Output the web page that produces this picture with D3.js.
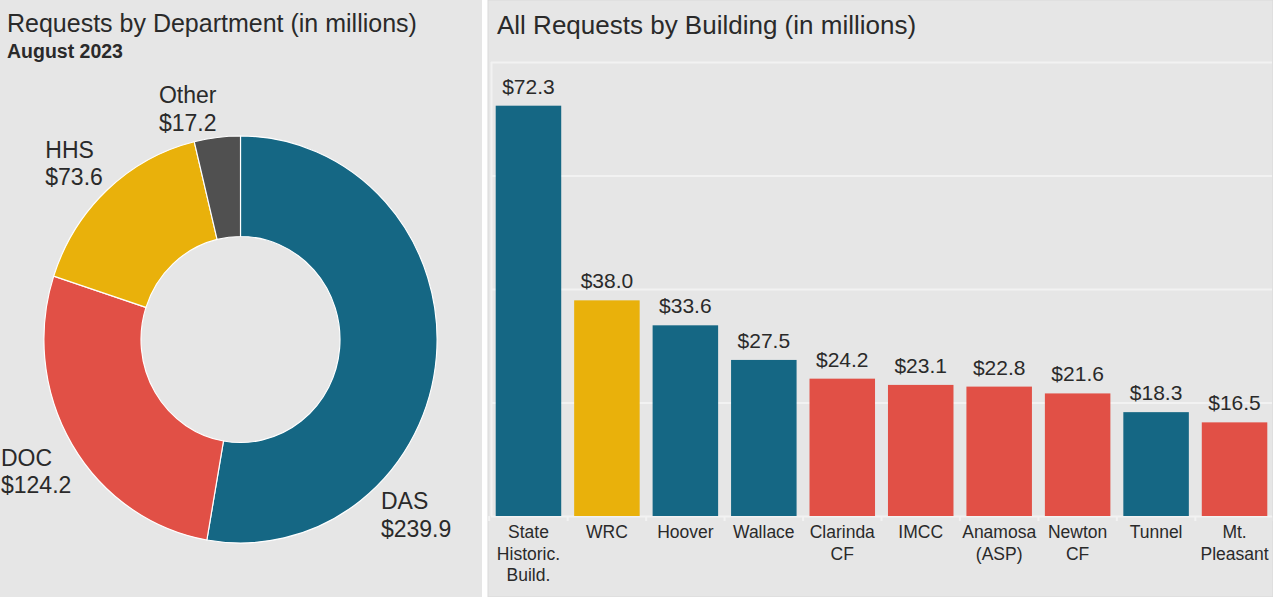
<!DOCTYPE html>
<html>
<head>
<meta charset="utf-8">
<script src="https://cdn.jsdelivr.net/npm/d3@7"></script>
<style>
    html, body { margin: 0; padding: 0; background: #ffffff; }
    svg { display: block; font-family: "Liberation Sans", Arial, sans-serif; }
</style>
</head>
<body>
<svg id="chart" width="1273" height="597"></svg>
<script>
// Donut data (in millions)
var deptNames = ["DAS", "DOC", "HHS", "Other"];
var deptValues = [239.9, 124.2, 73.6, 17.2];

// Bar data (in millions)
var buildingLabels = [
    ["State", "Historic.", "Build."],
    ["WRC"],
    ["Hoover"],
    ["Wallace"],
    ["Clarinda", "CF"],
    ["IMCC"],
    ["Anamosa", "(ASP)"],
    ["Newton", "CF"],
    ["Tunnel"],
    ["Mt.", "Pleasant"]
];
var buildingValues = [72.3, 38.0, 33.6, 27.5, 24.2, 23.1, 22.8, 21.6, 18.3, 16.5];
var buildingDept = ["DAS", "HHS", "DAS", "DAS", "DOC", "DOC", "DOC", "DOC", "DAS", "DOC"];
var gridTicks = [0, 20, 40, 60, 80];

var colors = d3.scaleOrdinal()
    .domain(deptNames)
    .range(["#156784", "#e15046", "#e9b10b", "#505050"]);

var bg = "#e6e6e6";
var textColor = "#2a2a2a";

var svg = d3.select("#chart");

// Panels
var leftW = 482;
var rightX = 488;

svg.append("rect").attr("x", 0).attr("y", 0).attr("width", leftW).attr("height", 597).attr("fill", bg);
svg.append("rect").attr("x", rightX).attr("y", 0).attr("width", 1273 - rightX).attr("height", 597)
    .attr("fill", bg).attr("stroke", "#d9d9d9").attr("stroke-width", 1);

// ---------- Left: donut ----------
var left = svg.append("g");

left.append("text")
    .attr("x", 7).attr("y", 32)
    .attr("font-size", 25).attr("fill", textColor)
    .text("Requests by Department (in millions)");
left.append("text")
    .attr("x", 7).attr("y", 58)
    .attr("font-size", 19.5).attr("font-weight", "bold").attr("fill", textColor)
    .text("August 2023");

var cx = 240.5, cy = 339.5;
var outerR = 203.5, innerR = 103;
var sx = 0.966; // the ring is drawn slightly narrower than tall

var pie = d3.pie().sort(null).value(d => d);
var arcs = pie(deptValues);

var arc = d3.arc().innerRadius(innerR).outerRadius(outerR);

var donut = left.append("g").attr("transform", "translate(" + cx + "," + cy + ") scale(" + sx + ",1)");
donut.selectAll("path")
    .data(arcs)
    .enter()
    .append("path")
    .attr("d", arc)
    .attr("fill", (d, i) => colors(deptNames[i]))
    .attr("stroke", "#ffffff")
    .attr("stroke-width", 1.2);

// Labels: the text box corner nearest the ring sits just outside it
var labelR = 210;
var fontSize = 23;
var lineH = 27.5;

arcs.forEach(function (d, i) {
    var g = left.append("g");
    var t1 = g.append("text").attr("font-size", fontSize).attr("fill", textColor).text(deptNames[i]);
    var t2 = g.append("text").attr("font-size", fontSize).attr("fill", textColor)
        .text("$" + d3.format(".1f")(deptValues[i]));
    var w = Math.max(t1.node().getComputedTextLength(), t2.node().getComputedTextLength());

    var a = (d.startAngle + d.endAngle) / 2;
    // rotate clockwise until the label fits inside the panel
    while (Math.sin(a) > 0 && cx + labelR * Math.sin(a) * sx + w > leftW - 30) {
        a += 0.01;
    }
    var px = cx + labelR * Math.sin(a) * sx;
    var py = cy - labelR * Math.cos(a);

    var x0 = Math.sin(a) >= 0 ? px : Math.max(1, px - w);
    var top = Math.cos(a) >= 0 ? py - (lineH + 18) : py;

    t1.attr("x", x0).attr("y", top + 18);
    t2.attr("x", x0).attr("y", top + 18 + lineH);
});

// ---------- Right: bars ----------
var right = svg.append("g");

right.append("text")
    .attr("x", 497).attr("y", 34)
    .attr("font-size", 26).attr("fill", textColor)
    .text("All Requests by Building (in millions)");

var plotLeft = 491, plotRight = 1272, plotTop = 62, plotBottom = 516;

var x = d3.scaleBand()
    .domain(d3.range(buildingValues.length))
    .range([plotLeft, plotRight])
    .paddingInner(0.165)
    .paddingOuter(0.06);

var y = d3.scaleLinear()
    .domain([0, 80])
    .range([plotBottom, plotTop]);

// Gridlines
right.append("g")
    .selectAll("line")
    .data(gridTicks)
    .enter()
    .append("line")
    .attr("x1", plotLeft).attr("x2", plotRight)
    .attr("y1", d => y(d) + 0.5).attr("y2", d => y(d) + 0.5)
    .attr("stroke", "#f2f2f2")
    .attr("stroke-width", 2);

right.append("line")
    .attr("x1", plotLeft + 0.5).attr("x2", plotLeft + 0.5)
    .attr("y1", plotTop).attr("y2", plotBottom)
    .attr("stroke", "#f2f2f2").attr("stroke-width", 2);

// Bars
right.append("g")
    .selectAll("rect")
    .data(buildingValues)
    .enter()
    .append("rect")
    .attr("x", (d, i) => x(i))
    .attr("width", x.bandwidth())
    .attr("y", d => y(d))
    .attr("height", d => y(0) - y(d))
    .attr("fill", (d, i) => colors(buildingDept[i]));

// Value labels
right.append("g")
    .selectAll("text")
    .data(buildingValues)
    .enter()
    .append("text")
    .attr("x", (d, i) => x(i) + x.bandwidth() / 2)
    .attr("y", d => y(d) - 12)
    .attr("text-anchor", "middle")
    .attr("font-size", 21)
    .attr("fill", textColor)
    .text(d => "$" + d3.format(".1f")(d));

// X axis ticks at band boundaries
var step = x.step();
var boundaries = d3.range(buildingValues.length + 1).map(i => x(0) - (step - x.bandwidth()) / 2 + i * step);
right.append("g")
    .selectAll("line")
    .data(boundaries)
    .enter()
    .append("line")
    .attr("x1", d => d).attr("x2", d => d)
    .attr("y1", plotBottom).attr("y2", plotBottom + 5)
    .attr("stroke", "#f2f2f2").attr("stroke-width", 2);

// X axis labels
var xl = right.append("g")
    .selectAll("text")
    .data(buildingLabels)
    .enter()
    .append("text")
    .attr("x", (d, i) => x(i) + x.bandwidth() / 2)
    .attr("y", 538)
    .attr("text-anchor", "middle")
    .attr("font-size", 17.5)
    .attr("fill", textColor);

xl.selectAll("tspan")
    .data(d => d)
    .enter()
    .append("tspan")
    .attr("x", function () { return d3.select(this.parentNode).attr("x"); })
    .attr("dy", (d, i) => i === 0 ? 0 : 21.5)
    .text(d => d);
</script>
</body>
</html>
